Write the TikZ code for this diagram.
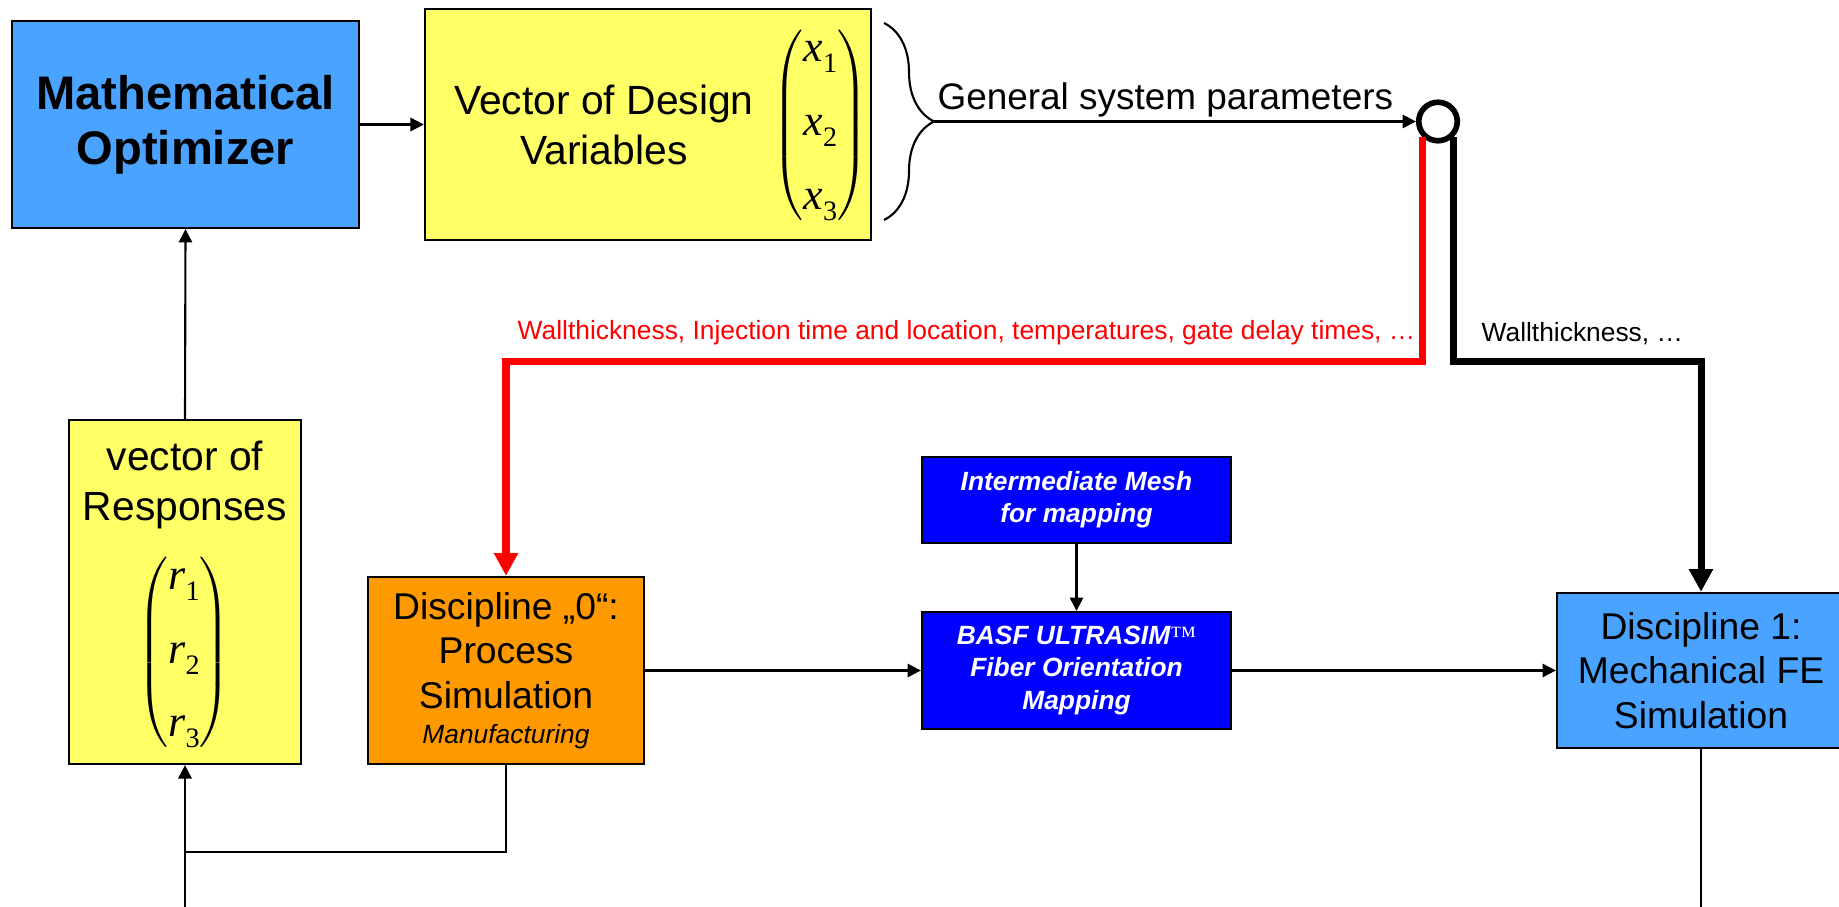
\documentclass[tikz,border=0pt]{standalone}
\usepackage{fontspec}
\setmainfont{Liberation Sans}
\newfontfamily\tms{Liberation Serif}
\usetikzlibrary{arrows.meta,decorations.pathreplacing}
\definecolor{optblue}{RGB}{74,163,255}
\definecolor{vecyellow}{RGB}{255,255,102}
\definecolor{procorange}{RGB}{255,153,0}
\definecolor{mapblue}{RGB}{0,0,255}
\newcommand{\vent}[2]{\mbox{\tms\itshape #1\raisebox{-0.25em}{\fontsize{8}{8}\selectfont\upshape #2}}}

\begin{document}
\begin{tikzpicture}[x=0.01cm, y=-0.01cm,
	box/.style={draw, line width=0.6pt, inner sep=0pt, align=center},
	flow/.style={line width=0.6pt},
	thin arrow/.style={flow, -{Triangle[length=3.8pt,width=3.8pt]}},
	thick arrow/.style={line width=2pt, -{Triangle[length=6.5pt,width=6.5pt]}},
	bigfont/.style={font=\fontsize{11.6}{14.2}\selectfont},
	discfont/.style={font=\fontsize{10.6}{12.7}\selectfont},
	labelfont/.style={font=\fontsize{7.5}{9}\selectfont},
	mapbox/.style={box, fill=mapblue, text=white, font=\fontsize{7.5}{9.2}\selectfont\bfseries\itshape}]
\useasboundingbox (0,0) rectangle (1839,907);

\node[box, fill=optblue, minimum width=3.47cm, minimum height=2.07cm, font=\fontsize{13.4}{15.6}\selectfont\bfseries] (opt) at (185.5,124.5) {Mathematical\\Optimizer};
\node[box, fill=vecyellow, minimum width=4.46cm, minimum height=2.31cm] (vec) at (648,124.5) {};
\node[bigfont, align=center, inner sep=0pt] (veclbl) at (604,124.5) {Vector of Design\\Variables};
\node[font=\fontsize{12.5}{15}\selectfont, inner sep=0pt] (xvec) at (820.5,125) {$\left(\begin{array}{@{}c@{}}\vent{x}{1}\\[6pt]\vent{x}{2}\\[6pt]\vent{x}{3}\end{array}\right)$};

\coordinate (bt) at (884,23);
\coordinate (bb) at (884,220);
\coordinate (btip) at (934,121.5);
\draw[decorate, decoration={brace, amplitude=0.5cm}, line width=0.6pt] (bt) -- (bb);
\node[circle, draw, line width=1.6pt, minimum size=0.385cm, inner sep=0pt] (circ) at (1438,121.5) {};
\draw[thin arrow] (btip) -- node[above, pos=0.48, inner sep=1pt, font=\fontsize{10.5}{12}\selectfont] (gsp) {General system parameters} (circ.west);

\node[box, fill=vecyellow, minimum width=2.32cm, minimum height=3.44cm] (resp) at (185,592) {};
\node[bigfont, align=center, inner sep=0pt] (resplbl) at (185,485) {vector of\\Responses};
\node[font=\fontsize{12.5}{15}\selectfont, inner sep=0pt] (rvec) at (184,652.5) {$\left(\begin{array}{@{}c@{}}\vent{r}{1}\\[6pt]\vent{r}{2}\\[6pt]\vent{r}{3}\end{array}\right)$};

\node[box, fill=procorange, minimum width=2.76cm, minimum height=1.87cm, discfont] (d0) at (506,670.5) {Discipline „0“:\\Process\\Simulation\\[-2.8pt]{\fontsize{7.5}{9}\selectfont\itshape Manufacturing}};
\node[mapbox, minimum width=3.09cm, minimum height=0.86cm] (mesh) at (1076.5,500) {Intermediate Mesh\\for mapping};
\node[mapbox, minimum width=3.09cm, minimum height=1.17cm] (basf) at (1076.5,670.5) {BASF ULTRASIM{\tms\mdseries\upshape ™}\\Fiber Orientation\\Mapping};
\node[box, fill=optblue, minimum width=2.88cm, minimum height=1.55cm, discfont] (d1) at (1701,670.5) {Discipline 1:\\Mechanical FE\\Simulation};

\draw[thick arrow, red] (circ.225) -- ++(0,224) node[anchor=south east, labelfont, inner xsep=1pt, inner ysep=3.5pt] (redlbl) {Wallthickness, Injection time and location, temperatures, gate delay times, …} -| (d0.north);
\draw[thick arrow] (circ.315) -- ++(0,224) node[anchor=south west, labelfont, inner xsep=1pt, inner ysep=3.5pt, xshift=0.21cm] (wlbl) {Wallthickness, …} -| (d1.north);

\coordinate (fbk) at (185,852);
\coordinate (inL) at (185,910);
\coordinate (outR) at (1701,910);
\draw[thin arrow] (opt.east) -- (vec.west);
\draw[thin arrow] (resp.north) -- (opt.south);
\draw[thin arrow] (d0.east) -- (basf.west);
\draw[thin arrow] (basf.east) -- (d1.west);
\draw[thin arrow] (mesh.south) -- (basf.north);
\draw[flow] (d0.south) |- (fbk);
\draw[thin arrow] (inL) -- (resp.south);
\draw[flow] (d1.south) -- (outR);
\end{tikzpicture}
\end{document}
